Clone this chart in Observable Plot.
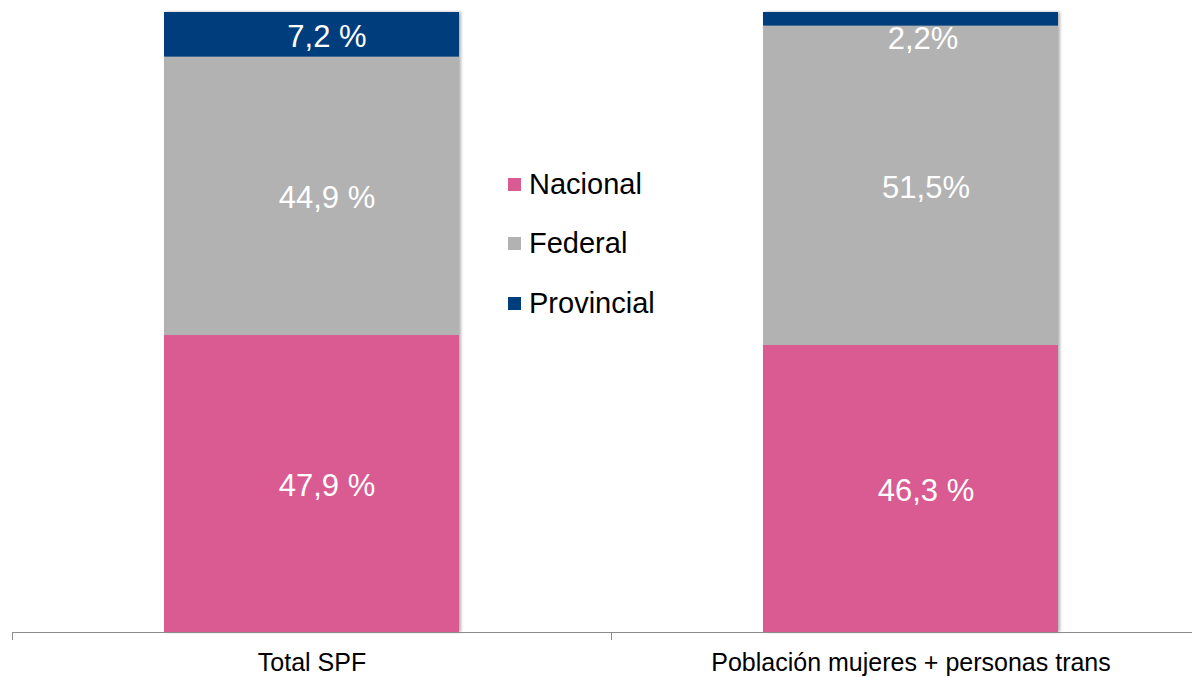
<!DOCTYPE html>
<html>
<head>
<meta charset="utf-8">
<script src="https://cdn.jsdelivr.net/npm/d3@7"></script>
<script src="https://cdn.jsdelivr.net/npm/@observablehq/plot@0.6"></script>
<style>
  body { margin: 0; background: #fff; font-family: "Liberation Sans", Arial, sans-serif; }
  #wrap { position: relative; width: 1192px; height: 677px; }
  #legend { position: absolute; left: 508px; top: 0; }
  .item { position: absolute; left: 0; height: 34px; display: flex; align-items: center; white-space: nowrap; font-size: 29px; color: #000; }
  .sw { width: 13px; height: 13px; margin-right: 8px; }
</style>
</head>
<body>
<div id="wrap"><div id="legend"></div></div>
<script>
const categories = ["Total SPF", "Población mujeres + personas trans"];
const series = ["Nacional", "Federal", "Provincial"];
const nacional = [47.9, 46.3];
const federal = [44.9, 51.5];
const provincial = [7.2, 2.2];
const labelsNacional = ["47,9 %", "46,3 %"];
const labelsFederal = ["44,9 %", "51,5%"];
const labelsProvincial = ["7,2 %", "2,2%"];
const colors = ["#D95B91", "#B2B2B2", "#003D7D"];

const values = [nacional, federal, provincial];
const labels = [labelsNacional, labelsFederal, labelsProvincial];
const rows = [];
series.forEach((s, i) => categories.forEach((c, j) => rows.push({cat: c, series: s, value: values[i][j], label: labels[i][j]})));

const W = 1192, H = 677, mL = 12, mR = -18;
const step = (W - mL - mR) / categories.length;

const chart = Plot.plot({
  width: W, height: H,
  marginTop: 12, marginBottom: 45, marginLeft: mL, marginRight: mR,
  style: {fontFamily: "'Liberation Sans', Arial, sans-serif", background: "white"},
  x: {domain: categories, paddingInner: 0.5075, paddingOuter: 0.25375, axis: null},
  y: {domain: [0, 100], axis: null},
  color: {domain: series, range: colors},
  marks: [
    Plot.barY(rows, {x: "cat", y: "value", fill: "series"}),
    Plot.text(rows, Plot.stackY({x: "cat", y: "value", z: "series", text: d => d.value >= 5 ? d.label : null, fill: "white", fontSize: 31, dx: 15, dy: 2})),
    Plot.text(rows, Plot.stackY({x: "cat", y: "value", z: "series", text: d => d.value < 5 ? d.label : null, fill: "white", fontSize: 31, dx: 12, dy: 20})),
    Plot.ruleY([0], {stroke: "#8c8c8c", strokeWidth: 1}),
    Plot.ruleX(categories, {x: d => d, dx: -step / 2, y1: 0, y2: -1.3, stroke: "#8c8c8c"}),
    Plot.axisX({tickSize: 0, tickPadding: 21, fontSize: 25, fill: "#000", label: null})
  ]
});
const barG = chart.querySelector('g[aria-label="bar"]');
if (barG) barG.style.filter = "drop-shadow(2px 0px 1.5px rgba(0,0,0,0.3))";
document.getElementById("wrap").prepend(chart);

const legend = document.getElementById("legend");
const legendY = [184, 243, 303];
series.forEach((s, i) => {
  const it = document.createElement("div");
  it.className = "item";
  it.style.top = (legendY[i] - 17) + "px";
  const sw = document.createElement("div");
  sw.className = "sw";
  sw.style.background = colors[i];
  it.appendChild(sw);
  it.appendChild(document.createTextNode(s));
  legend.appendChild(it);
});
</script>
</body>
</html>
